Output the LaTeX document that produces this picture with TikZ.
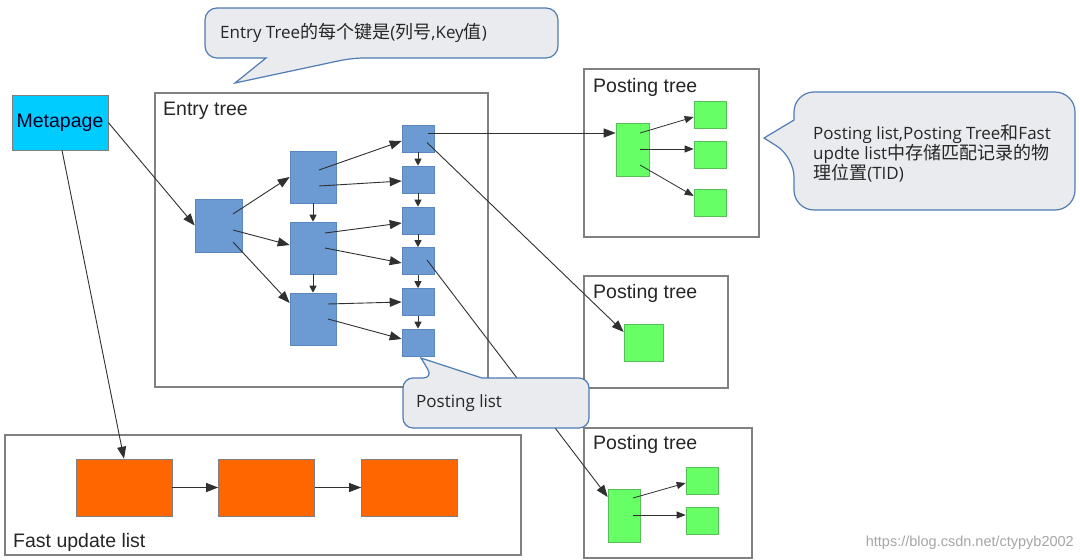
\documentclass[tikz,border=0pt]{standalone}
\usepackage{fontspec}
\setmainfont{Liberation Sans}
\newfontfamily\callfont{Open Sans}
\newfontfamily\cjk[Scale=1.06]{Noto Sans CJK SC}
\usetikzlibrary{arrows.meta}
\definecolor{metacyan}{HTML}{00CCFF}
\definecolor{eblue}{HTML}{6B9BD2}
\definecolor{eblueb}{HTML}{5A88BE}
\definecolor{pgreen}{HTML}{66FF66}
\definecolor{pgreenb}{HTML}{58BF58}
\definecolor{forange}{HTML}{FF6600}
\definecolor{framegray}{HTML}{808080}
\definecolor{callfill}{HTML}{E9EBEE}
\definecolor{callborder}{HTML}{4F7CB3}
\definecolor{arrowc}{HTML}{303030}
\tikzset{
  frame/.style={draw=framegray, line width=1.3pt, inner sep=0, fill=none},
  ebox/.style={draw=eblueb, fill=eblue, line width=0.6pt, inner sep=0},
  gbox/.style={draw=pgreenb, fill=pgreen, line width=0.6pt, inner sep=0},
  obox/.style={draw=framegray, fill=forange, line width=0.6pt, inner sep=0, minimum width=96pt, minimum height=57pt},
  rbox/.style={ebox, minimum width=32pt, minimum height=27pt},
  mbox/.style={ebox, minimum width=46pt, minimum height=52pt},
  leaf/.style={gbox, minimum width=32pt, minimum height=27pt},
  lab/.style={font=\fontsize{19.5}{22}\selectfont, text=black!85, inner sep=0, anchor=base west},
  calltext/.style={font=\callfont\fontsize{17}{20}\selectfont, text=black!85, inner sep=0, align=left},
  call/.style={draw=callborder, fill=callfill, line width=1.2pt},
  arr/.style={draw=arrowc, line width=0.9pt, -{Triangle[length=12pt,width=9pt]}},
  varr/.style={draw=arrowc, line width=0.9pt, -{Triangle[length=7pt,width=7pt]}},
  parr/.style={draw=arrowc, line width=0.8pt, -{Triangle[length=9pt,width=7pt]}},
}
\begin{document}
\begin{tikzpicture}[x=1pt,y=-1pt]
\useasboundingbox[fill=white] (0,0) rectangle (1080,560);

% frames
\node[frame, minimum width=333pt, minimum height=294pt] (entry) at (321.5,240) {};
\node[frame, minimum width=516pt, minimum height=120pt] (fast) at (263,495) {};
\node[frame, minimum width=175pt, minimum height=168pt] (pt1) at (671.5,153) {};
\node[frame, minimum width=144pt, minimum height=112pt] (pt2) at (656,332) {};
\node[frame, minimum width=168pt, minimum height=130pt] (pt3) at (668,493) {};

\node[lab] (entrylab) at (163,115) {Entry tree};
\node[lab] (fastlab) at (13,547) {Fast update list};
\node[lab] (pt1lab) at (593,92) {Posting tree};
\node[lab] (pt2lab) at (593,298) {Posting tree};
\node[lab] (pt3lab) at (593,449) {Posting tree};

% metapage
\node[draw=framegray, fill=metacyan, line width=0.6pt, minimum width=96pt, minimum height=55pt,
      font=\fontsize{19.5}{22}\selectfont, text=black!85!blue, inner sep=0] (meta) at (60,122.5) {Metapage};

% entry tree nodes
\node[ebox, minimum width=47pt, minimum height=53pt] (root) at (218.5,225.5) {};
\node[mbox] (m1) at (313,177) {};
\node[mbox] (m2) at (313,248) {};
\node[mbox] (m3) at (313,319) {};
\node[rbox] (r1) at (418,138.5) {};
\node[rbox] (r2) at (418,179.5) {};
\node[rbox] (r3) at (418,220.5) {};
\node[rbox] (r4) at (418,261) {};
\node[rbox] (r5) at (418,302) {};
\node[rbox] (r6) at (418,342.5) {};

% fast update list
\node[obox] (o1) at (124,487.5) {};
\node[obox] (o2) at (266.5,487.5) {};
\node[obox] (o3) at (409.5,487.5) {};

% posting trees
\node[gbox, minimum width=33pt, minimum height=53pt] (g1) at (632.5,149.5) {};
\node[leaf] (g1a) at (710,115) {};
\node[leaf] (g1b) at (710,154.5) {};
\node[leaf] (g1c) at (710,202.5) {};
\node[gbox, minimum width=39pt, minimum height=37pt] (g2) at (643.5,342.5) {};
\node[gbox, minimum width=32pt, minimum height=53pt] (g3) at (624,515.5) {};
\node[leaf] (g3a) at (702,480.5) {};
\node[leaf] (g3b) at (702,520.5) {};

% connectors
\draw[arr] (meta.east) -- (root.west);
\draw[arr] ([xshift=2pt]meta.south) -- (o1.north);
\draw[arr] ([shift={(14.5,-11.5)}]root.center) -- (m1.west);
\draw[arr] ([shift={(14.5,4.5)}]root.center) -- ([shift={(0,-3)}]m2.west);
\draw[arr] ([shift={(14.5,16.5)}]root.center) -- ([shift={(0,-16)}]m3.west);
\draw[arr] ([shift={(6,-7)}]m1.center) -- ([shift={(0,2.5)}]r1.west);
\draw[arr] ([shift={(6,9)}]m1.center) -- ([shift={(0,1.5)}]r2.west);
\draw[arr] ([shift={(12,-15)}]m2.center) -- ([shift={(0,2.5)}]r3.west);
\draw[arr] ([shift={(12,0)}]m2.center) -- ([shift={(0,2)}]r4.west);
\draw[arr] ([shift={(15,-15)}]m3.center) -- (r5.west);
\draw[arr] ([shift={(15,0)}]m3.center) -- ([shift={(0,-3.5)}]r6.west);
\draw[varr] (m1.south) -- (m2.north);
\draw[varr] (m2.south) -- (m3.north);
\draw[varr] (r1.south) -- (r2.north);
\draw[varr] (r2.south) -- (r3.north);
\draw[varr] (r3.south) -- (r4.north);
\draw[varr] (r4.south) -- (r5.north);
\draw[varr] (r5.south) -- (r6.north);
\draw[arr] ([shift={(10,-5.5)}]r1.center) -- ([shift={(0,-16.5)}]g1.west);
\draw[arr] ([shift={(9,4)}]r1.center) -- ([shift={(0,-10.5)}]g2.west);
\draw[arr] ([shift={(9,-1)}]r4.center) -- ([shift={(0,-18.5)}]g3.west);
\draw[parr] ([shift={(7.5,-16.5)}]g1.center) -- ([shift={(0,2)}]g1a.west);
\draw[parr] ([shift={(7.5,-0.5)}]g1.center) -- ([shift={(0,-5.5)}]g1b.west);
\draw[parr] ([shift={(7.5,15.5)}]g1.center) -- ([shift={(0,-6.5)}]g1c.west);
\draw[parr] ([shift={(9,-17.5)}]g3.center) -- ([shift={(0,2.5)}]g3a.west);
\draw[parr] ([shift={(9,-0.5)}]g3.center) -- ([shift={(0,-5.5)}]g3b.west);
\draw[arr] (o1.east) -- (o2.west);
\draw[arr] (o2.east) -- (o3.west);

% callouts
\draw[call, rounded corners=12] (380,8) -- (558,8) -- (558,58) -- (352,58) [sharp corners] -- (235,83) -- (266,58) [rounded corners=12] -- (205,58) -- (205,8) -- cycle;
\node[calltext, anchor=west] (c1) at (220,33) {Entry Tree{\cjk 的每个键是}({\cjk 列号},Key{\cjk 值})};

\draw[call, rounded corners=20] (935,92) -- (1075,92) -- (1075,210) -- (794,210) -- (794,157) [sharp corners] -- (764,138) -- (794,120) [rounded corners=20] -- (794,92) -- cycle;
\node[calltext, anchor=west] (c2) at (813,153) {Posting list,Posting Tree{\cjk 和}Fast\\updte list{\cjk 中存储匹配记录的物}\\{\cjk 理位置}(TID)};

\draw[call, rounded corners=10] (520,428) -- (403,428) -- (403,378) -- (433,378) [sharp corners] -- (421,358) -- (482,378) [rounded corners=10] -- (589,378) -- (589,428) -- cycle;
\node[calltext, anchor=west] (c3) at (416,403) {Posting list};

% watermark
\node[font=\fontsize{14.5}{16}\selectfont, text=black!35, anchor=base east, inner sep=0] (wm) at (1074,546) {https://blog.csdn.net/ctypyb2002};
\end{tikzpicture}
\end{document}
